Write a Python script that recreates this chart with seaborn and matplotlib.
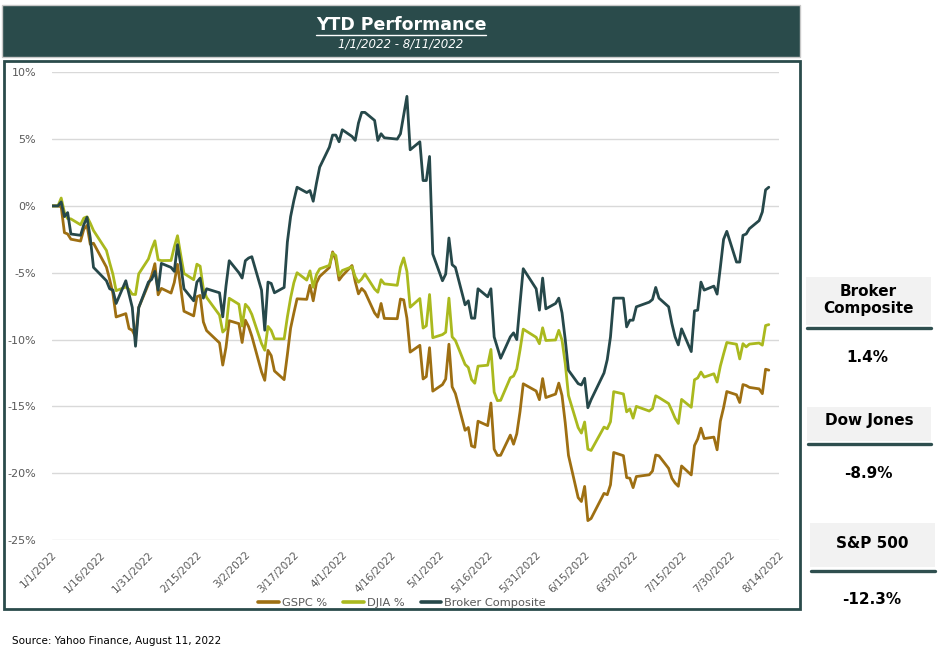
import matplotlib
matplotlib.use("Agg")
import matplotlib.pyplot as plt
from matplotlib.patches import Rectangle
from matplotlib.lines import Line2D
import seaborn as sns
import pandas as pd

# ---------------- data (percent change since 1/3/2022) ----------------
dates = [
    "2022-01-01", "2022-01-03", "2022-01-04", "2022-01-05", "2022-01-06", "2022-01-07",
    "2022-01-10", "2022-01-11", "2022-01-12", "2022-01-13", "2022-01-14",
    "2022-01-18", "2022-01-19", "2022-01-20", "2022-01-21",
    "2022-01-24", "2022-01-25", "2022-01-26", "2022-01-27", "2022-01-28", "2022-01-31",
    "2022-02-01", "2022-02-02", "2022-02-03", "2022-02-04",
    "2022-02-07", "2022-02-08", "2022-02-09", "2022-02-10", "2022-02-11",
    "2022-02-14", "2022-02-15", "2022-02-16", "2022-02-17", "2022-02-18",
    "2022-02-22", "2022-02-23", "2022-02-24", "2022-02-25", "2022-02-28",
    "2022-03-01", "2022-03-02", "2022-03-03", "2022-03-04",
    "2022-03-07", "2022-03-08", "2022-03-09", "2022-03-10", "2022-03-11",
    "2022-03-14", "2022-03-15", "2022-03-16", "2022-03-17", "2022-03-18",
    "2022-03-21", "2022-03-22", "2022-03-23", "2022-03-24", "2022-03-25",
    "2022-03-28", "2022-03-29", "2022-03-30", "2022-03-31",
    "2022-04-01", "2022-04-04", "2022-04-05", "2022-04-06", "2022-04-07", "2022-04-08",
    "2022-04-11", "2022-04-12", "2022-04-13", "2022-04-14",
    "2022-04-18", "2022-04-19", "2022-04-20", "2022-04-21", "2022-04-22",
    "2022-04-25", "2022-04-26", "2022-04-27", "2022-04-28", "2022-04-29",
    "2022-05-02", "2022-05-03", "2022-05-04", "2022-05-05", "2022-05-06",
    "2022-05-09", "2022-05-10", "2022-05-11", "2022-05-12", "2022-05-13",
    "2022-05-16", "2022-05-17", "2022-05-18", "2022-05-19", "2022-05-20",
    "2022-05-23", "2022-05-24", "2022-05-25", "2022-05-26", "2022-05-27", "2022-05-31",
    "2022-06-01", "2022-06-02", "2022-06-03",
    "2022-06-06", "2022-06-07", "2022-06-08", "2022-06-09", "2022-06-10",
    "2022-06-13", "2022-06-14", "2022-06-15", "2022-06-16", "2022-06-17",
    "2022-06-21", "2022-06-22", "2022-06-23", "2022-06-24",
    "2022-06-27", "2022-06-28", "2022-06-29", "2022-06-30",
    "2022-07-01", "2022-07-05", "2022-07-06", "2022-07-07", "2022-07-08",
    "2022-07-11", "2022-07-12", "2022-07-13", "2022-07-14", "2022-07-15",
    "2022-07-18", "2022-07-19", "2022-07-20", "2022-07-21", "2022-07-22",
    "2022-07-25", "2022-07-26", "2022-07-27", "2022-07-28", "2022-07-29",
    "2022-08-01", "2022-08-02", "2022-08-03", "2022-08-04", "2022-08-05",
    "2022-08-08", "2022-08-09", "2022-08-10", "2022-08-11",
]

gspc = [
    0, 0, -0.06, -2.00, -2.10, -2.49, -2.63, -1.74, -1.46, -2.87, -2.79,
    -4.58, -5.50, -6.54, -8.31, -8.06, -9.18, -9.31, -9.80, -7.60, -5.86,
    -5.21, -4.32, -6.65, -6.17, -6.52, -5.73, -4.37, -6.10, -7.88,
    -8.23, -6.79, -6.70, -8.68, -9.33, -10.25, -11.91, -10.59, -8.59, -8.81,
    -10.22, -8.55, -9.03, -9.75, -12.41, -13.05, -10.81, -11.20, -12.35,
    -13.00, -11.13, -9.15, -8.02, -6.95, -6.99, -5.94, -7.10, -5.76, -5.28,
    -4.61, -3.44, -4.05, -5.55,
    -5.23, -4.46, -5.66, -6.58, -6.18, -6.43, -8.01, -8.32, -7.30, -8.42,
    -8.44, -6.97, -7.03, -8.40, -10.94, -10.43, -12.95, -12.77, -10.61, -13.86,
    -13.37, -12.95, -10.35, -13.54, -14.04, -16.79, -16.58, -17.96, -18.06, -16.11,
    -16.44, -14.75, -18.20, -18.67, -18.66, -17.15, -17.83, -17.05, -15.40, -13.31, -13.85,
    -14.50, -12.92, -14.34, -14.08, -13.26, -14.19, -16.24, -18.67,
    -21.83, -22.12, -20.99, -23.55, -23.39, -21.51, -21.61, -20.87, -18.45,
    -18.69, -20.33, -20.38, -21.08,
    -20.25, -20.12, -19.84, -18.64, -18.70, -19.64, -20.38, -20.74, -20.98, -19.46,
    -20.13, -17.93, -17.44, -16.63, -17.41, -17.30, -18.25, -16.11, -15.10, -13.89,
    -14.13, -14.71, -13.37, -13.44, -13.58, -13.69, -14.05, -12.22, -12.29,
]

djia = [
    0, 0, 0.59, -0.49, -0.95, -0.97, -1.41, -0.91, -0.81, -1.29, -1.84,
    -3.33, -4.25, -5.11, -6.34, -6.07, -6.25, -6.61, -6.63, -5.08, -3.97,
    -3.22, -2.61, -4.03, -4.09, -4.08, -3.07, -2.23, -3.67, -5.05,
    -5.52, -4.36, -4.51, -6.21, -6.85, -8.17, -9.44, -9.19, -6.91, -7.36,
    -8.99, -7.36, -7.63, -8.12, -10.30, -10.80, -9.02, -9.32, -9.95,
    -9.95, -8.31, -6.89, -5.75, -5.00, -5.55, -4.86, -6.09, -5.13, -4.71,
    -4.45, -3.53, -3.71, -5.21,
    -4.83, -4.55, -5.31, -5.71, -5.47, -5.09, -6.22, -6.46, -5.52, -5.83,
    -5.94, -4.58, -3.89, -4.90, -7.58, -6.93, -9.14, -8.97, -6.63, -9.86,
    -9.63, -9.45, -6.90, -9.80, -10.07, -11.86, -12.09, -12.99, -13.27, -11.99,
    -11.92, -10.74, -13.93, -14.57, -14.55, -12.86, -12.73, -12.20, -10.79, -9.22, -9.83,
    -10.31, -9.12, -10.07, -10.03, -9.31, -10.04, -11.79, -14.19,
    -16.59, -17.00, -16.17, -18.20, -18.30, -16.55, -16.68, -16.15, -13.90,
    -14.07, -15.41, -15.19, -15.88,
    -15.00, -15.35, -15.16, -14.21, -14.34, -14.79, -15.32, -15.89, -16.28, -14.48,
    -15.07, -13.01, -12.87, -12.43, -12.81, -12.56, -13.18, -11.99, -11.08, -10.22,
    -10.35, -11.45, -10.31, -10.55, -10.34, -10.26, -10.42, -8.95, -8.88,
]

broker = [
    0, 0, 0.3, -0.8, -0.5, -2.1, -2.2, -1.4, -0.85, -2.4, -4.6,
    -5.6, -6.2, -6.3, -7.3, -5.6, -6.6, -7.6, -10.5, -7.6, -5.7,
    -5.5, -4.9, -6.3, -4.3, -4.6, -4.9, -2.9, -4.4, -6.2,
    -7.1, -5.7, -5.4, -6.9, -6.2, -6.5, -8.3, -6.0, -4.1, -5.0,
    -5.4, -4.1, -3.9, -3.8, -6.3, -9.3, -5.7, -5.8, -6.5,
    -6.1, -2.7, -0.8, 0.4, 1.4, 1.0, 1.15, 0.35, 1.7, 2.9,
    4.4, 5.3, 5.3, 4.8,
    5.7, 5.2, 4.9, 6.2, 7.0, 7.0, 6.4, 4.9, 5.4, 5.1,
    5.0, 5.4, 6.8, 8.2, 4.2, 4.8, 1.9, 1.9, 3.7, -3.6,
    -5.6, -5.1, -2.4, -4.4, -4.6, -7.4, -7.1, -8.4, -8.4, -6.2,
    -6.8, -6.2, -9.8, -10.6, -11.4, -9.8, -9.5, -10.0, -7.3, -4.7, -6.2,
    -7.8, -5.4, -7.7, -7.3, -6.9, -8.0, -10.0, -12.3,
    -13.3, -13.4, -12.9, -15.1, -14.5, -12.5, -11.5, -9.8, -6.9,
    -6.9, -9.05, -8.55, -8.55,
    -7.55, -7.2, -7.0, -6.1, -6.9, -7.55, -8.8, -9.8, -10.4, -9.2,
    -10.9, -7.85, -7.8, -5.7, -6.3, -6.0, -6.6, -4.6, -2.5, -1.9,
    -4.2, -4.2, -2.2, -2.1, -1.7, -1.1, -0.45, 1.2, 1.4,
]

series_names = ["GSPC %", "DJIA %", "Broker Composite"]
series_colors = ["#9E6F12", "#AAB91E", "#26484A"]
y_ticks = [-25, -20, -15, -10, -5, 0, 5, 10]
x_tick_dates = ["2022-01-01", "2022-01-16", "2022-01-31", "2022-02-15", "2022-03-02",
                "2022-03-17", "2022-04-01", "2022-04-16", "2022-05-01", "2022-05-16",
                "2022-05-31", "2022-06-15", "2022-06-30", "2022-07-15", "2022-07-30",
                "2022-08-14"]
title = "YTD Performance"
subtitle = "1/1/2022 - 8/11/2022"
panel_labels = ["Broker\nComposite", "Dow Jones", "S&P 500"]
panel_values = ["1.4%", "-8.9%", "-12.3%"]
source = "Source: Yahoo Finance, August 11, 2022"

# ---------------- figure ----------------
sns.set_style("white")
plt.rcParams['font.family'] = ['DejaVu Sans']

W, H = 941, 656
fig = plt.figure(figsize=(W / 100, H / 100), dpi=100)
fig.patch.set_facecolor("white")


def fx(px):
    return px / W


def fy(py):
    return 1 - py / H


DARK = "#2A4B4B"
GRAY = "#595959"

# banner
fig.patches.append(Rectangle((fx(2), fy(57)), fx(800) - fx(2), fy(5) - fy(57),
                             transform=fig.transFigure, facecolor=DARK,
                             edgecolor="#C8C8C8", lw=1, zorder=-2))
# chart frame
fig.patches.append(Rectangle((fx(4), fy(609)), fx(800) - fx(4), fy(61) - fy(609),
                             transform=fig.transFigure, facecolor="white",
                             edgecolor=DARK, lw=2, zorder=-2))

t = fig.text(fx(401), fy(25), title, ha="center", va="center", color="white",
             fontsize=12.5, fontweight="bold")
fig.text(fx(401), fy(44), subtitle, ha="center", va="center", color="white",
         fontsize=8.5, style="italic")

# ---------------- axes ----------------
ax = fig.add_axes([fx(51.5), fy(540), fx(778.5) - fx(51.5), fy(72.3) - fy(540)])
ax.patch.set_alpha(0)

df = pd.DataFrame({"date": pd.to_datetime(dates), series_names[0]: gspc,
                   series_names[1]: djia, series_names[2]: broker})
long = df.melt(id_vars="date", var_name="series", value_name="value")
sns.lineplot(data=long, x="date", y="value", hue="series", hue_order=series_names,
             palette=dict(zip(series_names, series_colors)), linewidth=2.0,
             ax=ax, legend=False)

ax.set_ylim(-25, 10)
ax.set_yticks(y_ticks)
ax.set_yticklabels([f"{v}%" for v in y_ticks])
xt = pd.to_datetime(x_tick_dates)
ax.set_xlim(xt[0], xt[-1])
ax.set_xticks(xt)
ax.set_xticklabels([f"{d.month}/{d.day}/{d.year}" for d in xt], rotation=45,
                   ha="right", rotation_mode="anchor")
ax.tick_params(axis="both", length=0, labelcolor=GRAY)
ax.tick_params(axis="y", pad=11, labelsize=8)
ax.tick_params(axis="x", pad=7, labelsize=7.6)
ax.grid(False)
ax.yaxis.grid(True, color="#D9D9D9", lw=1)
ax.set_axisbelow(True)
for s in ax.spines.values():
    s.set_visible(False)
ax.set_xlabel("")
ax.set_ylabel("")

handles = [Line2D([0], [0], color=c, lw=2.6) for c in series_colors]
fig.legend(handles, series_names, loc="center", bbox_to_anchor=(fx(402), fy(603)),
           ncol=3, frameon=False, fontsize=8.2, labelcolor=GRAY, handlelength=1.8,
           handletextpad=0.25, columnspacing=1.45)

# ---------------- right panel ----------------
boxes = [(806, 277, 931, 325, 327.5, 300, 357),
         (807, 407, 931, 441, 444, 421, 473),
         (810, 523, 935, 567, 570.5, 544, 600)]
for (x0, y0, x1, y1, uy, ty, vy), lab, val in zip(boxes, panel_labels, panel_values):
    fig.patches.append(Rectangle((fx(x0), fy(y1)), fx(x1) - fx(x0), fy(y0) - fy(y1),
                                 transform=fig.transFigure, facecolor="#F2F2F2",
                                 edgecolor="none", zorder=-1))
    fig.lines.append(Line2D([fx(x0 + 1), fx(x1)], [fy(uy), fy(uy)],
                            transform=fig.transFigure, color="#2F4F4F", lw=2.4))
    fig.text(fx((x0 + x1) / 2), fy(ty), lab, ha="center", va="center",
             fontsize=11, fontweight="bold", color="black", linespacing=1.15)
    fig.text(fx((x0 + x1) / 2 - 1), fy(vy), val, ha="center", va="center",
             fontsize=11, fontweight="bold", color="black")

fig.text(fx(12), fy(641), source, ha="left", va="center", fontsize=7.5, color="black")

# underline the title
fig.canvas.draw()
bb = t.get_window_extent(renderer=fig.canvas.get_renderer())
inv = fig.transFigure.inverted()
(bx0, by0), (bx1, by1) = inv.transform([[bb.x0, bb.y0], [bb.x1, bb.y1]])
fig.lines.append(Line2D([bx0, bx1], [by0 - 0.001, by0 - 0.001], transform=fig.transFigure,
                        color="white", lw=1.0))

fig.savefig("out.png", dpi=100, facecolor="white")
